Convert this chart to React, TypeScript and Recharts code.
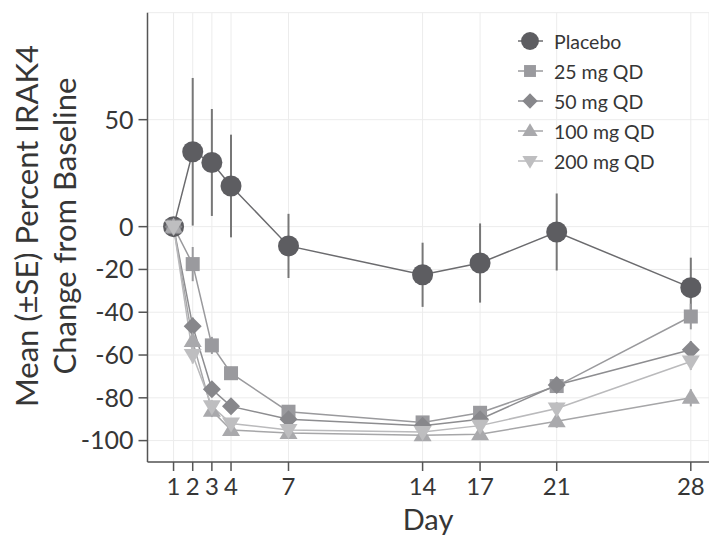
import React from 'react';
import { ComposedChart, Line, XAxis, YAxis, CartesianGrid, ErrorBar, Legend } from 'recharts';

// study days and series values (mean % change from baseline, SE)
const days = [1, 2, 3, 4, 7, 14, 17, 21, 28];
const placebo = [0, 35, 30, 19, -9, -22.5, -17, -2.5, -28.5];
const placeboSE = [1.5, 34.5, 25, 24, 15, 15, 18.5, 18, 14];
const mg25 = [0, -17.5, -55.5, -68.5, -86.5, -91.5, -87, -74.5, -42];
const mg25SE = [1.5, 8, 4, 3, 3, 2, 2, 3, 6];
const mg50 = [0, -46.5, -76, -84, -90, -93, -90, -74, -57.5];
const mg50SE = [1.5, 4, 3, 3, 2, 2, 2, 3, 4];
const mg100 = [0, -53.5, -86, -95, -96.5, -97.5, -97, -91, -80];
const mg100SE = [1.5, 4, 3, 2, 2, 2, 2, 3, 4];
const mg200 = [0, -60, -84, -92, -95, -96, -93, -85, -63];
const mg200SE = [1.5, 4, 3, 2, 2, 2, 2, 3, 4];

const xTicks = [1, 2, 3, 4, 7, 14, 17, 21, 28];
const yTicks = [-100, -80, -60, -40, -20, 0, 50];

const series = [
  { key: 'placebo', name: 'Placebo', shape: 'circle', fill: '#5d5d61', line: '#6b6b6e', values: placebo, se: placeboSE },
  { key: 'mg25', name: '25 mg QD', shape: 'square', fill: '#9a9a9e', line: '#9a9a9d', values: mg25, se: mg25SE },
  { key: 'mg50', name: '50 mg QD', shape: 'diamond', fill: '#87878b', line: '#8d8d90', values: mg50, se: mg50SE },
  { key: 'mg100', name: '100 mg QD', shape: 'up', fill: '#a9a9ac', line: '#a6a6a8', values: mg100, se: mg100SE },
  { key: 'mg200', name: '200 mg QD', shape: 'down', fill: '#bebec0', line: '#bababc', values: mg200, se: mg200SE },
];

const data = days.map((d, i) => {
  const row: any = { day: d };
  series.forEach((s) => {
    row[s.key] = s.values[i];
    row[s.key + 'Err'] = s.se[i];
  });
  return row;
});

const FONT = 'Lato, "Open Sans", sans-serif';
const TEXT = '#363636';

function Marker({ shape, cx, cy, fill, scale = 1 }: any) {
  if (cx == null || cy == null) return null;
  if (shape === 'circle') return <circle cx={cx} cy={cy} r={10.5 * scale} fill={fill} />;
  if (shape === 'square') {
    const h = 7 * scale;
    return <rect x={cx - h} y={cy - h} width={2 * h} height={2 * h} fill={fill} />;
  }
  if (shape === 'diamond') {
    const h = 9 * scale;
    return <polygon points={`${cx},${cy - h} ${cx + h},${cy} ${cx},${cy + h} ${cx - h},${cy}`} fill={fill} />;
  }
  const w = 9 * scale;
  if (shape === 'up') {
    return <polygon points={`${cx},${cy - 9 * scale} ${cx + w},${cy + 6 * scale} ${cx - w},${cy + 6 * scale}`} fill={fill} />;
  }
  return <polygon points={`${cx},${cy + 9 * scale} ${cx + w},${cy - 6 * scale} ${cx - w},${cy - 6 * scale}`} fill={fill} />;
}

function renderLegend() {
  return (
    <div style={{ fontFamily: FONT }}>
      {series.map((s) => (
        <div key={s.key} style={{ display: 'flex', alignItems: 'center', height: 30 }}>
          <svg width={30} height={30}>
            <line x1={3} y1={15} x2={28} y2={15} stroke={s.line} strokeWidth={1.5} />
            <Marker shape={s.shape} cx={15} cy={15} fill={s.fill} scale={0.85} />
          </svg>
          <span style={{ marginLeft: 9, fontSize: 19.5, color: TEXT }}>{s.name}</span>
        </div>
      ))}
    </div>
  );
}

function YTitle() {
  return (
    <g fontFamily={FONT} fontSize={31} fill={TEXT} textAnchor="middle">
      <text transform="translate(38,226) rotate(-90)">Mean (±SE) Percent IRAK4</text>
      <text transform="translate(76,226) rotate(-90)">Change from Baseline</text>
    </g>
  );
}

function XTitle() {
  return (
    <text x={428} y={530} fontFamily={FONT} fontSize={29} fill={TEXT} textAnchor="middle">
      Day
    </text>
  );
}

export default function App() {
  return (
    <div style={{ position: 'absolute', left: 0, top: 0, width: 709, height: 537, background: '#fff' }}>
      <ComposedChart width={709} height={537} data={data} margin={{ top: 12.7, right: 0, bottom: 0, left: 0 }}>
        <CartesianGrid stroke="#ececec" strokeWidth={1} />
        <XAxis
          dataKey="day"
          type="number"
          domain={[-0.36, 28.95]}
          allowDataOverflow
          ticks={xTicks}
          interval={0}
          height={75}
          axisLine={{ stroke: '#555', strokeWidth: 1.5 }}
          tickLine={{ stroke: '#555', strokeWidth: 1.5 }}
          tickSize={9}
          tickMargin={7}
          tick={{ fill: TEXT, fontSize: 24, fontFamily: FONT }}
          label={{ content: () => <XTitle /> }}
        />
        <YAxis
          type="number"
          domain={[-110, 100]}
          allowDataOverflow
          ticks={yTicks}
          interval={0}
          width={147.5}
          axisLine={{ stroke: '#555', strokeWidth: 1.5 }}
          tickLine={{ stroke: '#555', strokeWidth: 1.5 }}
          tickSize={9}
          tickMargin={5}
          tick={{ fill: TEXT, fontSize: 25, fontFamily: FONT }}
          label={{ content: () => <YTitle /> }}
        />
        <Legend
          content={renderLegend}
          layout="vertical"
          verticalAlign="middle"
          align="center"
          wrapperStyle={{ left: 515, top: 26, width: 190 }}
        />
        {series.map((s) => (
          <Line
            key={s.key}
            dataKey={s.key}
            name={s.name}
            type="linear"
            stroke={s.line}
            strokeWidth={1.5}
            isAnimationActive={false}
            dot={(p: any) => <Marker key={`${s.key}-${p.index}`} shape={s.shape} cx={p.cx} cy={p.cy} fill={s.fill} />}
            activeDot={false}
          >
            <ErrorBar dataKey={s.key + 'Err'} direction="y" width={0} stroke={s.key === 'placebo' ? '#777' : s.line} strokeWidth={2} />
          </Line>
        ))}
      </ComposedChart>
    </div>
  );
}
